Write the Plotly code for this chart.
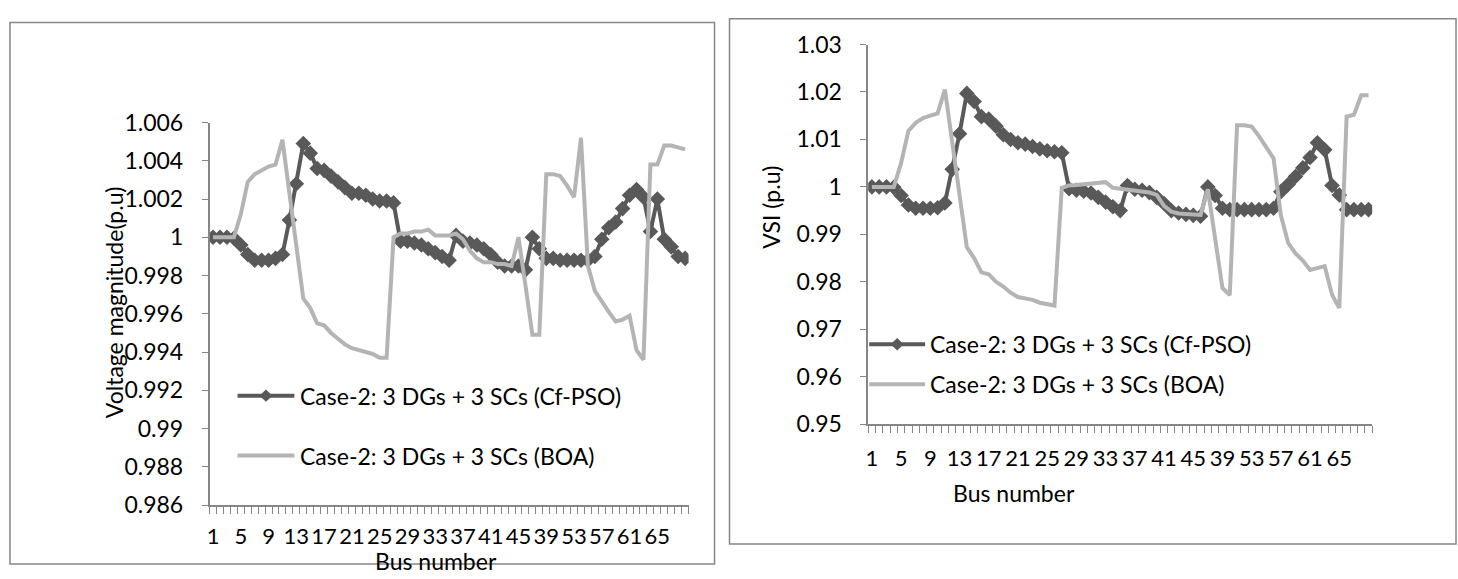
import plotly.graph_objects as go

# ---------------- data ----------------
bus = list(range(1, 70))

volt_cfpso = [1.0000, 1.0000, 1.0000, 0.99995, 0.9996, 0.9991, 0.9988, 0.9988, 0.9988, 0.9989,
              0.9991, 1.0009, 1.0028, 1.0049, 1.0044, 1.0036, 1.0035, 1.0032, 1.0029, 1.0026,
              1.0023, 1.0023, 1.0022, 1.0020, 1.0019, 1.0019, 1.0018, 0.9998, 0.9998, 0.9997,
              0.9996, 0.9994, 0.9992, 0.9990, 0.9988, 1.0001, 0.9998, 0.9997, 0.9996, 0.9994,
              0.9991, 0.9987, 0.9985, 0.9985, 0.9985, 0.9983, 1.0000, 0.9994, 0.9989, 0.9989,
              0.9988, 0.9988, 0.9988, 0.9988, 0.9988, 0.9990, 0.9999, 1.0005, 1.0008, 1.0015,
              1.0022, 1.0025, 1.0021, 1.0003, 1.0020, 0.9999, 0.9995, 0.9990, 0.9989]

volt_boa = [1.0000, 1.0000, 1.0000, 1.0000, 1.0012, 1.0029, 1.0033, 1.0035, 1.0037, 1.0038,
            1.0051, 1.0023, 0.9996, 0.9968, 0.9963, 0.9955, 0.9954, 0.9950, 0.9947, 0.9944,
            0.9942, 0.9941, 0.9940, 0.9939, 0.9937, 0.9937, 1.0000, 1.0002, 1.0002, 1.0003,
            1.0003, 1.0004, 1.0001, 1.0001, 1.0001, 1.0002, 0.9999, 0.9993, 0.9989, 0.9987,
            0.9987, 0.9986, 0.9986, 0.9985, 1.0000, 0.9975, 0.9949, 0.9949, 1.0033, 1.0033,
            1.0032, 1.0027, 1.0021, 1.0052, 0.9985, 0.9972, 0.9966, 0.9961, 0.9956, 0.9957,
            0.9959, 0.9941, 0.9936, 1.0038, 1.0038, 1.0048, 1.0048, 1.0047, 1.0046]

vsi_cfpso = [1.0000, 1.0000, 1.0000, 0.9999, 0.9982, 0.9962, 0.9955, 0.9955, 0.9955, 0.9956,
             0.9966, 1.0037, 1.0112, 1.0197, 1.0180, 1.0148, 1.0143, 1.0128, 1.0110, 1.0100,
             1.0093, 1.0090, 1.0085, 1.0080, 1.0076, 1.0074, 1.0072, 0.9996, 0.9993, 0.9991,
             0.9987, 0.9978, 0.9968, 0.9958, 0.9950, 1.0003, 0.9995, 0.9993, 0.9988, 0.9978,
             0.9965, 0.9950, 0.9945, 0.9942, 0.9940, 0.9938, 1.0000, 0.9982, 0.9955, 0.9952,
             0.9952, 0.9952, 0.9952, 0.9952, 0.9952, 0.9955, 0.9990, 1.0005, 1.0022, 1.0040,
             1.0062, 1.0093, 1.0078, 1.0003, 0.9983, 0.9952, 0.9952, 0.9952, 0.9952]

vsi_boa = [1.0000, 1.0000, 1.0000, 1.0000, 1.0050, 1.0118, 1.0135, 1.0145, 1.0150, 1.0155,
           1.0205, 1.0094, 0.9984, 0.9873, 0.9850, 0.9820, 0.9816, 0.9800, 0.9790, 0.9777,
           0.9768, 0.9766, 0.9762, 0.9756, 0.9752, 0.9750, 0.9998, 1.0003, 1.0004, 1.0005,
           1.0006, 1.0008, 1.0010, 0.9998, 0.9996, 0.9994, 0.9992, 0.9990, 0.9988, 0.9983,
           0.9960, 0.9948, 0.9944, 0.9943, 0.9942, 0.9941, 0.9995, 0.9890, 0.9787, 0.9772,
           1.0130, 1.0130, 1.0127, 1.0107, 1.0085, 1.0060, 0.9940, 0.9882, 0.9860, 0.9845,
           0.9825, 0.9828, 0.9833, 0.9773, 0.9745, 1.0148, 1.0152, 1.0193, 1.0193]

x_tick_vals = [1, 5, 9, 13, 17, 21, 25, 29, 33, 37, 41, 45, 49, 53, 57, 61, 65]
x_tick_text = ["1", "5", "9", "13", "17", "21", "25", "29", "33", "37", "41", "45",
               "39", "53", "57", "61", "65"]
x_boundaries = [b - 0.5 for b in bus] + [bus[-1] + 0.5]

volt_tick_vals = [0.986, 0.988, 0.990, 0.992, 0.994, 0.996, 0.998, 1.000, 1.002, 1.004, 1.006]
volt_tick_text = ["0.986", "0.988", "0.99", "0.992", "0.994", "0.996", "0.998", "1",
                  "1.002", "1.004", "1.006"]
vsi_tick_vals = [0.95, 0.96, 0.97, 0.98, 0.99, 1.00, 1.01, 1.02, 1.03]
vsi_tick_text = ["0.95", "0.96", "0.97", "0.98", "0.99", "1", "1.01", "1.02", "1.03"]

name_cfpso = "Case-2: 3 DGs + 3 SCs (Cf-PSO)"
name_boa = "Case-2: 3 DGs + 3 SCs (BOA)"
x_title = "Bus number"
y_title_left = "Voltage magnitude(p.u)"
y_title_right = "VSI (p.u)"

# ---------------- style ----------------
W, H = 1458, 579
DARK = "#595959"
LIGHT = "#B4B4B4"
AXIS = "#868686"
FONT = "Lato"
FS = 23
FS_X = 22


def px(x):
    return x / W


def py(y):
    return 1 - y / H


fig = go.Figure()

# left chart
fig.add_trace(go.Scatter(x=bus, y=volt_cfpso, mode="lines+markers", name=name_cfpso,
                         line=dict(color=DARK, width=4),
                         marker=dict(symbol="diamond", size=12, color=DARK),
                         xaxis="x", yaxis="y", showlegend=False))
fig.add_trace(go.Scatter(x=bus, y=volt_boa, mode="lines", name=name_boa,
                         line=dict(color=LIGHT, width=4),
                         xaxis="x", yaxis="y", showlegend=False))
# right chart
fig.add_trace(go.Scatter(x=bus, y=vsi_cfpso, mode="lines+markers", name=name_cfpso,
                         line=dict(color=DARK, width=4),
                         marker=dict(symbol="diamond", size=12, color=DARK),
                         xaxis="x2", yaxis="y2", showlegend=False))
fig.add_trace(go.Scatter(x=bus, y=vsi_boa, mode="lines", name=name_boa,
                         line=dict(color=LIGHT, width=4),
                         xaxis="x2", yaxis="y2", showlegend=False))

L_X0, L_X1, L_Y0, L_Y1 = 207, 687, 113, 515
R_X0, R_X1, R_Y0, R_Y1 = 867, 1372, 31, 430

common_x = dict(range=[0.5, 69.5], showline=True, linecolor=AXIS, linewidth=1.5,
                tickmode="array", tickvals=x_tick_vals, ticktext=x_tick_text,
                ticks="", tickangle=0, tickfont=dict(family=FONT, size=FS_X, color="black"),
                showgrid=False, zeroline=False,
                minor=dict(tickmode="array", tickvals=x_boundaries, ticks="outside",
                           ticklen=7, tickwidth=1, tickcolor=AXIS, showgrid=False))
common_y = dict(showline=True, linecolor=AXIS, linewidth=1.5, tickmode="array",
                ticks="outside", ticklen=6, tickwidth=1, tickcolor=AXIS,
                tickfont=dict(family=FONT, size=FS, color="black"),
                ticklabelstandoff=14, showgrid=False, zeroline=False)

fig.update_layout(
    width=W, height=H, margin=dict(l=0, r=0, t=0, b=0),
    paper_bgcolor="white", plot_bgcolor="white", showlegend=False,
    xaxis=dict(domain=[px(L_X0), px(L_X1)], anchor="y", ticklabelstandoff=11, **common_x),
    yaxis=dict(domain=[py(L_Y1), py(L_Y0)], anchor="x", range=[0.986, 1.006],
               tickvals=volt_tick_vals, ticktext=volt_tick_text, **common_y),
    xaxis2=dict(domain=[px(R_X0), px(R_X1)], anchor="y2", ticklabelstandoff=14, **common_x),
    yaxis2=dict(domain=[py(R_Y1), py(R_Y0)], anchor="x2", range=[0.95, 1.03],
                tickvals=vsi_tick_vals, ticktext=vsi_tick_text, **common_y),
)

shapes = []
# chart frames
shapes.append(dict(type="rect", xref="paper", yref="paper", x0=px(7), x1=px(713),
                   y0=py(577), y1=py(8), line=dict(color=AXIS, width=1.5)))
shapes.append(dict(type="rect", xref="paper", yref="paper", x0=px(728), x1=px(1456),
                   y0=py(556), y1=py(4), line=dict(color=AXIS, width=1.5)))


def legend_sample(x0, x1, y, color, diamond):
    out = [dict(type="line", xref="paper", yref="paper", x0=px(x0), x1=px(x1),
                y0=py(y), y1=py(y), line=dict(color=color, width=4))]
    if diamond:
        cx = (x0 + x1) / 2
        r = 6.5
        path = "M {},{} L {},{} L {},{} L {},{} Z".format(
            px(cx - r), py(y), px(cx), py(y - r), px(cx + r), py(y), px(cx), py(y + r))
        out.append(dict(type="path", xref="paper", yref="paper", path=path,
                        fillcolor=color, line=dict(color=color, width=0)))
    return out


shapes += legend_sample(235, 292, 400, DARK, True)
shapes += legend_sample(235, 292, 463, LIGHT, False)
shapes += legend_sample(868, 924, 346, DARK, True)
shapes += legend_sample(868, 924, 388, LIGHT, False)
fig.update_layout(shapes=shapes)

ann = []


def text(x, y, s, xanchor="left", angle=0):
    ann.append(dict(x=px(x), y=py(y), xref="paper", yref="paper", text=s, showarrow=False,
                    xanchor=xanchor, yanchor="middle", textangle=angle,
                    font=dict(family=FONT, size=FS, color="black")))


text(296, 400, name_cfpso)
text(296, 463, name_boa)
text(927, 346, name_cfpso)
text(927, 388, name_boa)
text(434, 574, x_title, xanchor="center")
text(1013, 502, x_title, xanchor="center")
text(112, 302, y_title_left, xanchor="center", angle=-90)
text(770, 202, y_title_right, xanchor="center", angle=-90)
fig.update_layout(annotations=ann)

fig.write_html("out.html", config={"displayModeBar": False},
               post_script="document.body.style.margin='0';"
                           "document.body.style.overflow='hidden';")
